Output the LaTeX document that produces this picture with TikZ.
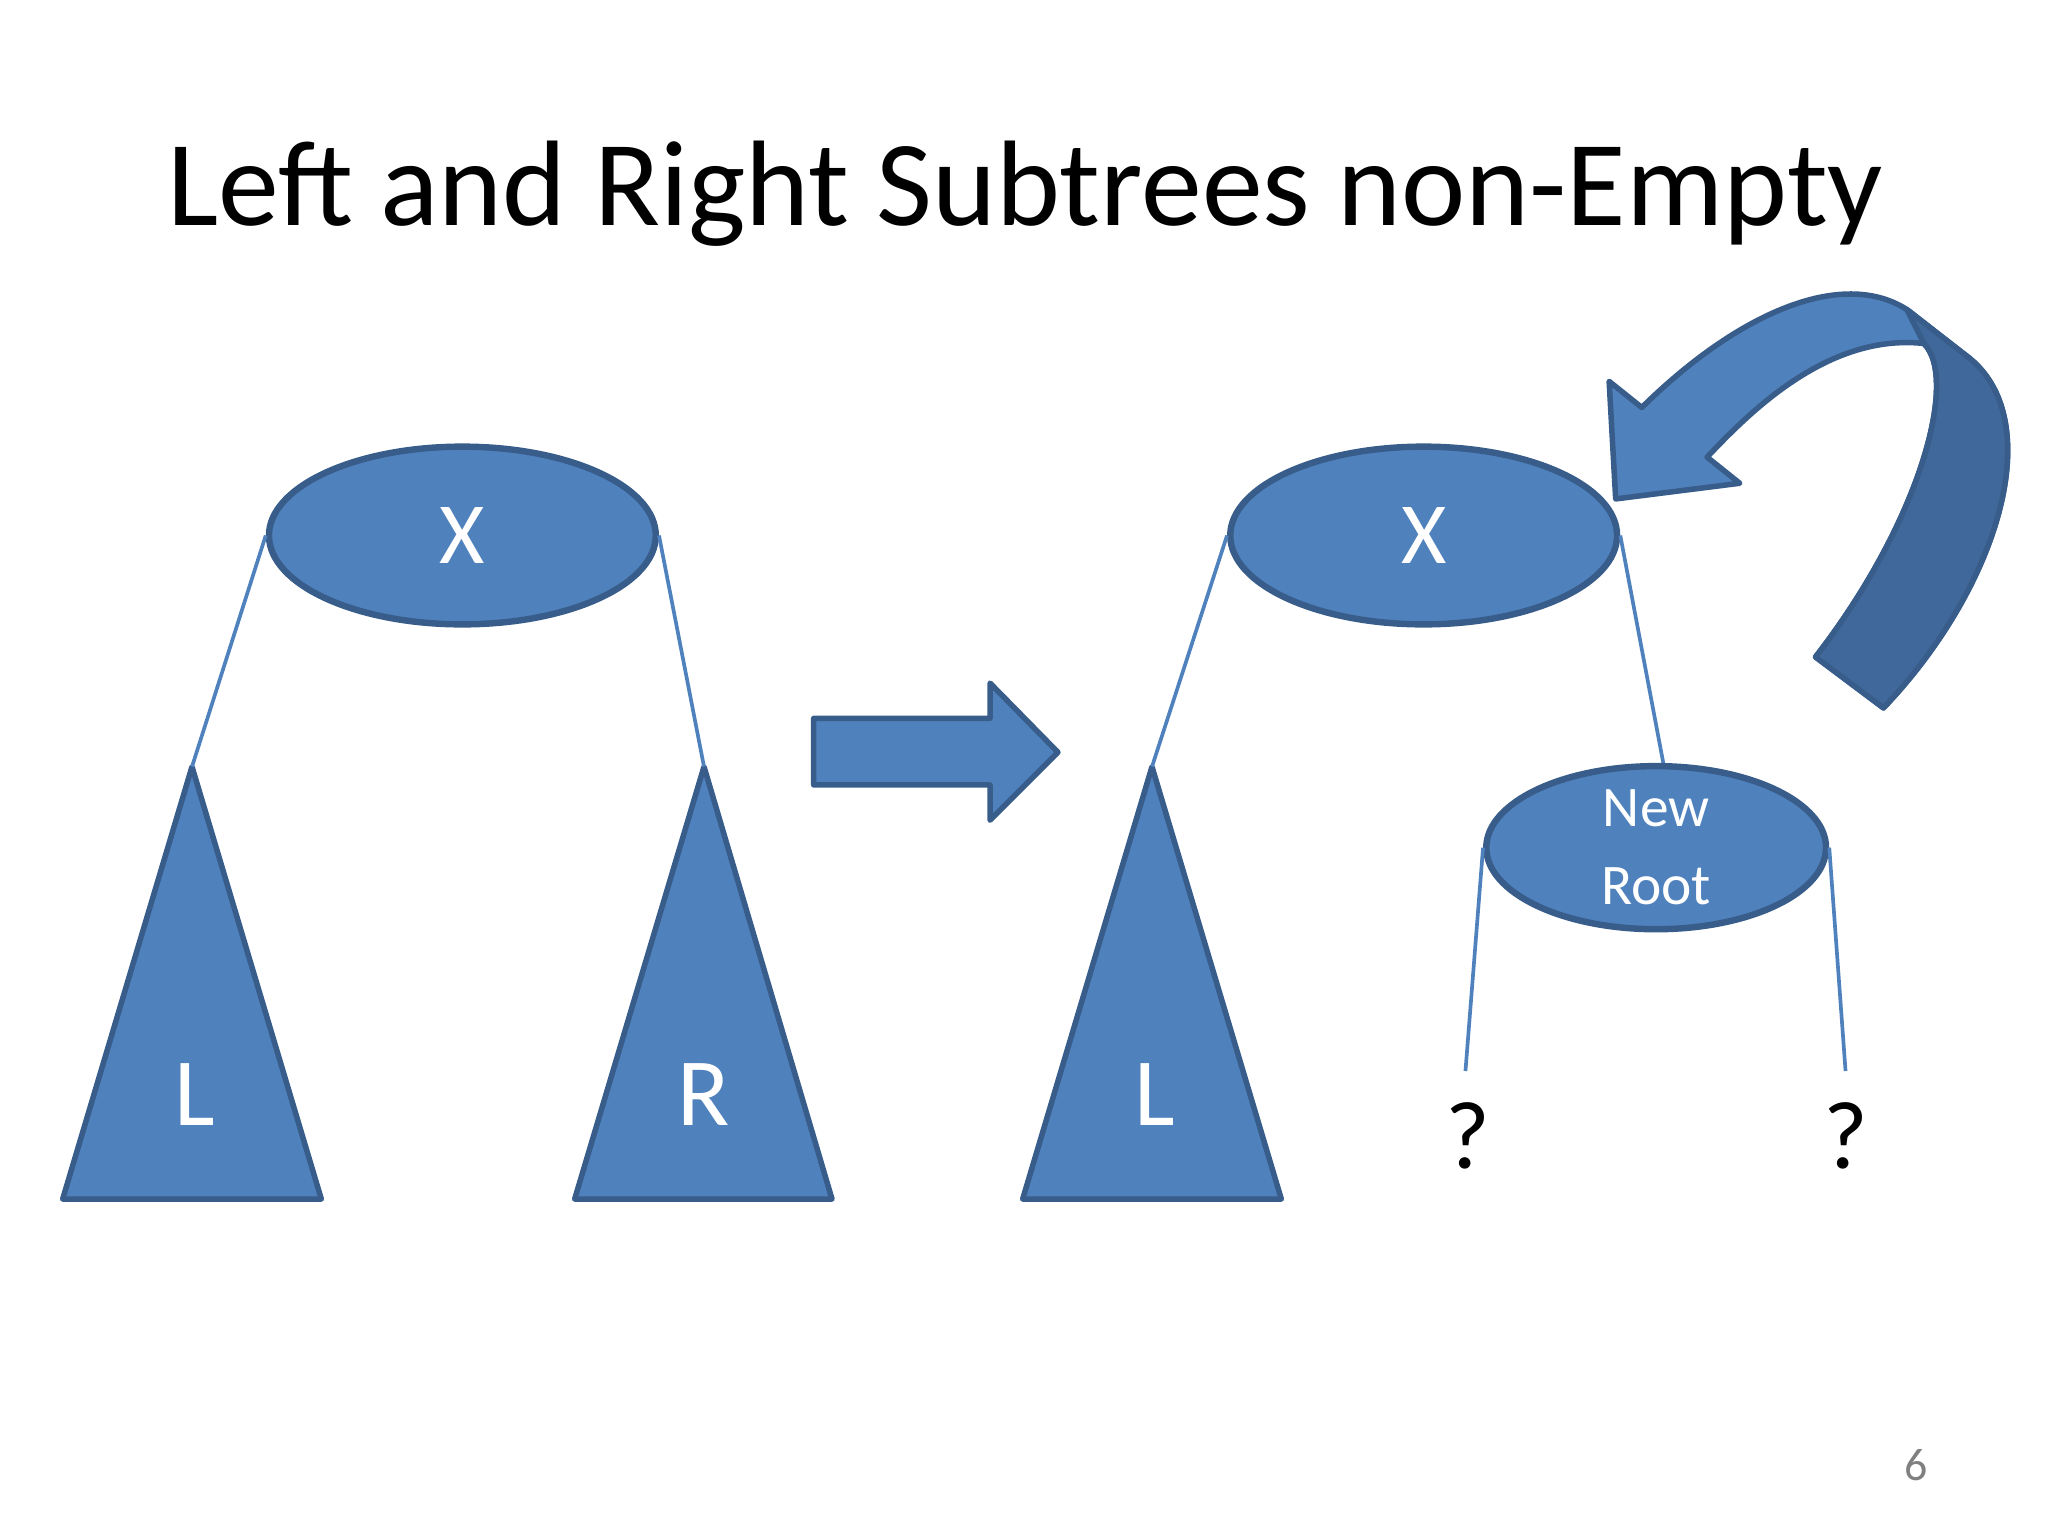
\documentclass[tikz,border=0pt]{standalone}
\usepackage{fontspec}
\setmainfont{Carlito}
\usetikzlibrary{shapes.geometric}
\definecolor{bfill}{HTML}{4F81BD}
\definecolor{bline}{HTML}{385D8A}
\definecolor{bdark}{HTML}{41689A}
\begin{document}
\begin{tikzpicture}[x=0.01cm,y=-0.01cm,
  shp/.style={fill=bfill,draw=bline,line width=1.2pt,line join=round},
  ell/.style={shape=ellipse,fill=bfill,draw=bline,line width=1.4pt,inner sep=0pt,text=white},
  conn/.style={draw=bfill,line width=0.8pt},
  lab/.style={text=white,font=\fontsize{21}{24}\selectfont}]
\useasboundingbox (0,0) rectangle (1568,1176);
\node[font=\fontsize{26.5}{30}\selectfont] (title) at (785,148) {Left and Right Subtrees non-Empty};
% left tree
\node[ell,minimum width=296\pgflinewidth*0+2.96cm,minimum height=1.36cm,font=\fontsize{19}{22}\selectfont] (x1) at (354,410) {X};
\draw[shp] (147,587) coordinate (l1t) -- (246,918) -- (48,918) -- cycle;
\draw[shp] (539,587) coordinate (r1t) -- (637,918) -- (440,918) -- cycle;
\node[lab] (l1) at (149,838) {L};
\node[lab] (r1) at (539,838) {R};
\draw[conn] (x1.west) -- (l1t);
\draw[conn] (x1.east) -- (r1t);
% block arrow
\draw[shp] (623,550) -- (758,550) -- (758,523) -- (810,576) -- (758,628) -- (758,601) -- (623,601) -- cycle;
% right tree
\node[ell,minimum width=2.96cm,minimum height=1.36cm,font=\fontsize{19}{22}\selectfont] (x2) at (1090,410) {X};
\draw[shp] (882,587) coordinate (l2t) -- (981,918) -- (783,918) -- cycle;
\node[lab] (l2) at (884,838) {L};
\coordinate (nrt) at (1274,587);
\draw[conn] (x2.west) -- (l2t);
\draw[conn] (x2.east) -- (nrt);
\node[ell,minimum width=2.6cm,minimum height=1.0cm,align=center,font=\fontsize{12.5}{17}\selectfont] (nr) at (1268,649) {New\\Root};
\coordinate (q1t) at (1122,820);
\coordinate (q2t) at (1413,820);
\draw[conn] (nr.west) -- (q1t);
\draw[conn] (nr.east) -- (q2t);
\node[font=\fontsize{21}{24}\selectfont] (q1) at (1124,870) {?};
\node[font=\fontsize{21}{24}\selectfont] (q2) at (1413,870) {?};
% curved arrow
\draw[shp] (1257,312) .. controls (1330,240) and (1410,205) .. (1460,237) -- (1505,272) .. controls (1570,320) and (1530,450) .. (1442,542) -- (1390,503) .. controls (1470,400) and (1500,290) .. (1473,263) .. controls (1400,255) and (1340,315) .. (1307,350) -- (1332,370) -- (1237,382) -- (1232,292) -- cycle;
\draw[fill=bdark,draw=bline,line width=1.2pt,line join=round] (1460,237) -- (1505,272) .. controls (1570,320) and (1530,450) .. (1442,542) -- (1390,503) .. controls (1470,400) and (1500,290) .. (1473,263) -- cycle;
\node[text=gray,font=\fontsize{10}{12}\selectfont] (pg) at (1467,1122) {6};
\end{tikzpicture}
\end{document}
